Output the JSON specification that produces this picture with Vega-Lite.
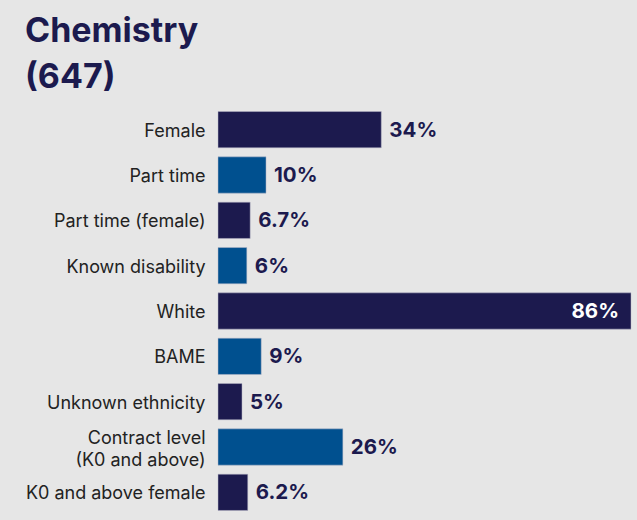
{
  "$schema": "https://vega.github.io/schema/vega-lite/v6.json",
  "autosize": "none",
  "width": 413,
  "height": 408,
  "padding": {"left": 218, "top": 107, "right": 6, "bottom": 5},
  "background": "#e6e6e6",
  "config": {"view": {"stroke": null}, "font": "Inter"},
  "title": {
    "text": ["Chemistry", "(647)"],
    "anchor": "start",
    "frame": "group",
    "dx": -193,
    "offset": 12,
    "fontSize": 34,
    "fontWeight": "bold",
    "color": "#1c1a4e",
    "lineHeight": 46,
    "font": "Inter"
  },
  "data": {
    "values": [
      {"category": "Female", "value": 34, "label": "34%", "shade": "a"},
      {"category": "Part time", "value": 10, "label": "10%", "shade": "b"},
      {"category": "Part time (female)", "value": 6.7, "label": "6.7%", "shade": "a"},
      {"category": "Known disability", "value": 6, "label": "6%", "shade": "b"},
      {"category": "White", "value": 86, "label": "86%", "shade": "a"},
      {"category": "BAME", "value": 9, "label": "9%", "shade": "b"},
      {"category": "Unknown ethnicity", "value": 5, "label": "5%", "shade": "a"},
      {"category": "Contract level\n(K0 and above)", "value": 26, "label": "26%", "shade": "b"},
      {"category": "K0 and above female", "value": 6.2, "label": "6.2%", "shade": "a"}
    ]
  },
  "encoding": {
    "y": {
      "field": "category",
      "type": "nominal",
      "sort": null,
      "scale": {"paddingInner": 0.2, "paddingOuter": 0.1},
      "axis": {
        "title": null,
        "domain": false,
        "ticks": false,
        "labelPadding": 13,
        "labelFontSize": 18,
        "labelColor": "#222222",
        "labelFont": "Inter",
        "labelLimit": 300,
        "labelLineHeight": 22,
        "labelOffset": {"condition": {"test": "indexof(datum.value, '\\n') >= 0", "value": -8}, "value": 2},
        "labelExpr": "split(datum.label, '\\n')"
      }
    },
    "x": {
      "field": "value",
      "type": "quantitative",
      "scale": {"domain": [0, 86], "nice": false},
      "axis": null
    }
  },
  "layer": [
    {
      "mark": {"type": "bar", "stroke": "#b8b8c8", "strokeWidth": 0.5},
      "encoding": {
        "color": {
          "field": "shade",
          "type": "nominal",
          "scale": {"domain": ["a", "b"], "range": ["#1c1a4e", "#00508f"]},
          "legend": null
        }
      }
    },
    {
      "transform": [{"filter": "datum.value < 80"}],
      "mark": {"type": "text", "align": "left", "baseline": "middle", "dx": 8, "dy": 1, "fontSize": 20.5, "fontWeight": "bold", "color": "#1c1a4e", "font": "Inter"},
      "encoding": {"text": {"field": "label"}}
    },
    {
      "transform": [{"filter": "datum.value >= 80"}],
      "mark": {"type": "text", "align": "right", "baseline": "middle", "dx": -12, "dy": 1, "fontSize": 20.5, "fontWeight": "bold", "color": "#ffffff", "font": "Inter"},
      "encoding": {"text": {"field": "label"}}
    }
  ]
}
